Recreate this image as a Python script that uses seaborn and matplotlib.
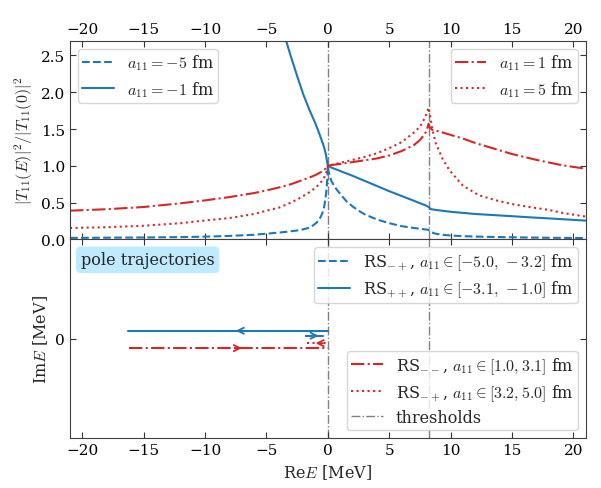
import numpy as np
import pandas as pd
import seaborn as sns
import matplotlib
matplotlib.use("Agg")
import matplotlib.pyplot as plt
from matplotlib.lines import Line2D

# ---------------- data ----------------
E_m5 = [-21, -18, -15, -12, -10, -8, -6, -5, -4, -3, -2.3, -1.8, -1.5, -1.2, -0.9, -0.7,
        -0.54, -0.4, -0.3, -0.19, -0.12, -0.07, -0.03, 0.0, 0.05, 0.15, 0.3, 0.5, 0.75, 1.0,
        1.5, 2.0, 2.5, 3.0, 4.0, 5.0, 6.0, 7.0, 7.7, 8.2, 8.4, 8.7, 9.2, 10, 11, 12, 14, 16, 18, 21]
T_m5 = [0.02, 0.023, 0.026, 0.031, 0.037, 0.047, 0.063, 0.077, 0.092, 0.11, 0.125, 0.145, 0.16,
        0.19, 0.23, 0.27, 0.32, 0.38, 0.44, 0.56, 0.66, 0.76, 0.87, 1.0, 0.93, 0.86, 0.79, 0.73,
        0.67, 0.62, 0.52, 0.45, 0.39, 0.34, 0.27, 0.22, 0.18, 0.155, 0.14, 0.13, 0.10, 0.08, 0.065,
        0.052, 0.044, 0.038, 0.031, 0.026, 0.022, 0.018]

E_m1 = [-3.6, -3.4, -3.0, -2.5, -2.0, -1.5, -1.0, -0.68, -0.4, -0.27, -0.15, -0.08, 0.0,
        0.3, 1.0, 2.0, 3.0, 4.0, 5.0, 6.0, 7.0, 7.6, 8.0, 8.2, 8.4, 8.8, 9.5, 10, 11, 12, 13, 14,
        15, 16.4, 18, 19.5, 21]
T_m1 = [2.82, 2.70, 2.48, 2.22, 1.97, 1.76, 1.57, 1.43, 1.30, 1.23, 1.15, 1.07, 1.0,
        0.975, 0.93, 0.865, 0.795, 0.725, 0.655, 0.59, 0.525, 0.485, 0.46, 0.44, 0.41, 0.40, 0.385,
        0.375, 0.36, 0.345, 0.335, 0.325, 0.315, 0.30, 0.285, 0.27, 0.255]

E_p1 = [-21, -18, -15, -12, -10, -8, -6, -5, -4, -3, -2, -1.5, -1, -0.5, -0.2, 0.0,
        0.3, 1, 2, 3, 4, 5, 6, 7, 7.5, 7.9, 8.1, 8.2, 8.3, 8.5, 9, 10, 11, 12, 13, 14, 15, 16,
        17, 18, 19, 20, 21]
T_p1 = [0.39, 0.41, 0.44, 0.49, 0.53, 0.575, 0.63, 0.665, 0.705, 0.75, 0.81, 0.84, 0.875,
        0.92, 0.96, 1.0, 1.01, 1.025, 1.05, 1.075, 1.10, 1.14, 1.20, 1.28, 1.35, 1.43, 1.51, 1.57,
        1.52, 1.49, 1.47, 1.42, 1.37, 1.31, 1.26, 1.21, 1.16, 1.12, 1.08, 1.045, 1.01, 0.985, 0.96]

E_p5 = [-21, -18, -15, -12, -10.4, -8, -6, -5, -4, -3, -2.3, -1.5, -0.94, -0.5, -0.27, -0.1,
        0.0, 0.5, 1, 2, 3, 4, 5, 6, 7, 7.5, 7.9, 8.1, 8.2, 8.3, 8.5, 8.8, 9.36, 9.9, 11, 12.3,
        13.7, 15, 16.4, 18, 19.1, 21]
T_p5 = [0.155, 0.165, 0.185, 0.22, 0.25, 0.29, 0.345, 0.39, 0.43, 0.50, 0.56, 0.64, 0.71,
        0.79, 0.85, 0.92, 1.0, 1.02, 1.04, 1.08, 1.12, 1.17, 1.24, 1.32, 1.45, 1.53, 1.65, 1.74,
        1.79, 1.70, 1.50, 1.30, 1.09, 0.94, 0.73, 0.60, 0.53, 0.48, 0.44, 0.40, 0.36, 0.31]

thresholds = [0.0, 8.2]

# pole trajectories (Re E, Im E), arrow position and direction
pole_pp_re = [-16.3, 0.0];  pole_pp_im = [0.08, 0.08]
pole_mpB_re = [-1.9, -0.35]; pole_mpB_im = [0.03, 0.03]
pole_mm_re = [-16.2, 0.0];  pole_mm_im = [-0.095, -0.095]
pole_mpR_re = [-1.7, 0.0];  pole_mpR_im = [-0.045, -0.045]
arrows = [(-7.5, 0.08, -1), (-0.75, 0.03, 1), (-7.0, -0.095, 1), (-1.0, -0.045, -1)]

blue = "#1f77b4"
red = "#d62728"
FS = 11.5

# ---------------- style ----------------
sns.set_style("ticks")
plt.rcParams["font.family"] = ["DejaVu Serif"]
plt.rcParams["mathtext.fontset"] = "cm"
plt.rcParams["font.size"] = FS
plt.rcParams["axes.edgecolor"] = "0.25"
plt.rcParams["xtick.color"] = "0.2"
plt.rcParams["ytick.color"] = "0.2"
plt.rcParams["xtick.labelcolor"] = "black"
plt.rcParams["ytick.labelcolor"] = "black"
plt.rcParams["legend.borderpad"] = 0.25
plt.rcParams["legend.labelspacing"] = 0.4

fig, (ax1, ax2) = plt.subplots(2, 1, figsize=(6.01, 4.89), dpi=100, sharex=True,
                               gridspec_kw=dict(hspace=0))
fig.subplots_adjust(left=0.1165, right=0.9745, top=0.9147, bottom=0.1022)

def curve(ax, x, y, color, ls, label=None):
    df = pd.DataFrame({"E": x, "T": y})
    sns.lineplot(data=df, x="E", y="T", ax=ax, color=color, linestyle=ls, lw=1.5,
                 estimator=None, sort=False, label=label, legend=False)

curve(ax1, E_m5, T_m5, blue, "--")
curve(ax1, E_m1, T_m1, blue, "-")
curve(ax1, E_p1, T_p1, red, "-.")
curve(ax1, E_p5, T_p5, red, ":")

for ax in (ax1, ax2):
    for t in thresholds:
        ax.axvline(t, color="gray", ls="-.", lw=1.0, zorder=0.5)

ax1.set_xlim(-21, 21)
ax1.set_ylim(0, 2.7)
ax1.set_yticks([0.0, 0.5, 1.0, 1.5, 2.0, 2.5])
ax1.set_ylabel(r"$|T_{11}(E)|^2/|T_{11}(0)|^2$", fontsize=FS)
ax1.set_xlabel(r"$E$ [MeV]", fontsize=FS)
ax1.xaxis.set_label_position("top")

h_blue = [Line2D([], [], color=blue, ls="--", lw=1.5), Line2D([], [], color=blue, ls="-", lw=1.5)]
leg1 = ax1.legend(h_blue, [r"$a_{11}=-5$ fm", r"$a_{11}=-1$ fm"], loc="upper left",
                  fontsize=FS, framealpha=0.8)
ax1.add_artist(leg1)
h_red = [Line2D([], [], color=red, ls="-.", lw=1.5), Line2D([], [], color=red, ls=":", lw=1.5)]
ax1.legend(h_red, [r"$a_{11}=1$ fm", r"$a_{11}=5$ fm"], loc="upper right",
           fontsize=FS, framealpha=0.8)

# lower panel: pole trajectories
poles = [(pole_pp_re, pole_pp_im, blue, "-"), (pole_mpB_re, pole_mpB_im, blue, "--"),
         (pole_mm_re, pole_mm_im, red, "-."), (pole_mpR_re, pole_mpR_im, red, ":")]
for xr, yi, c, ls in poles:
    curve(ax2, xr, yi, c, ls)
acol = [blue, blue, red, red]
for (xa, ya, d), c in zip(arrows, acol):
    ax2.annotate("", xy=(xa, ya), xytext=(xa - d * 0.6, ya),
                 arrowprops=dict(arrowstyle="->", color=c, lw=1.3, mutation_scale=11,
                                 shrinkA=0, shrinkB=0))

ax2.set_ylim(-1, 1)
ax2.set_yticks([0])
ax2.set_xticks([-20, -15, -10, -5, 0, 5, 10, 15, 20])
ax2.set_xlabel(r"Re$E$ [MeV]", fontsize=FS)
ax2.set_ylabel(r"Im$E$ [MeV]", fontsize=FS)

ax2.text(0.021, 0.94, "pole trajectories", transform=ax2.transAxes, ha="left", va="top",
         fontsize=FS,
         bbox=dict(boxstyle="round,pad=0.3", facecolor="#bfeaff", edgecolor="none"))

hA = [Line2D([], [], color=blue, ls="--", lw=1.5), Line2D([], [], color=blue, ls="-", lw=1.5)]
legA = ax2.legend(hA, [r"RS$_{-+}$, $a_{11}\in[-5.0,\,-3.2]$ fm",
                       r"RS$_{++}$, $a_{11}\in[-3.1,\,-1.0]$ fm"],
                  loc="upper right", fontsize=FS, framealpha=0.8)
ax2.add_artist(legA)
hB = [Line2D([], [], color=red, ls="-.", lw=1.5), Line2D([], [], color=red, ls=":", lw=1.5),
      Line2D([], [], color="gray", ls="-.", lw=1.0)]
ax2.legend(hB, [r"RS$_{--}$, $a_{11}\in[1.0,3.1]$ fm",
                r"RS$_{-+}$, $a_{11}\in[3.2,5.0]$ fm", "thresholds"],
           loc="lower right", fontsize=FS, framealpha=0.8)

for ax in (ax1, ax2):
    ax.tick_params(direction="in", length=4, right=True, top=True, labelsize=11)
ax1.tick_params(axis="x", labeltop=True, labelbottom=False)
ax2.tick_params(axis="x", labeltop=False, labelbottom=True)

fig.savefig("out.png", dpi=100)
